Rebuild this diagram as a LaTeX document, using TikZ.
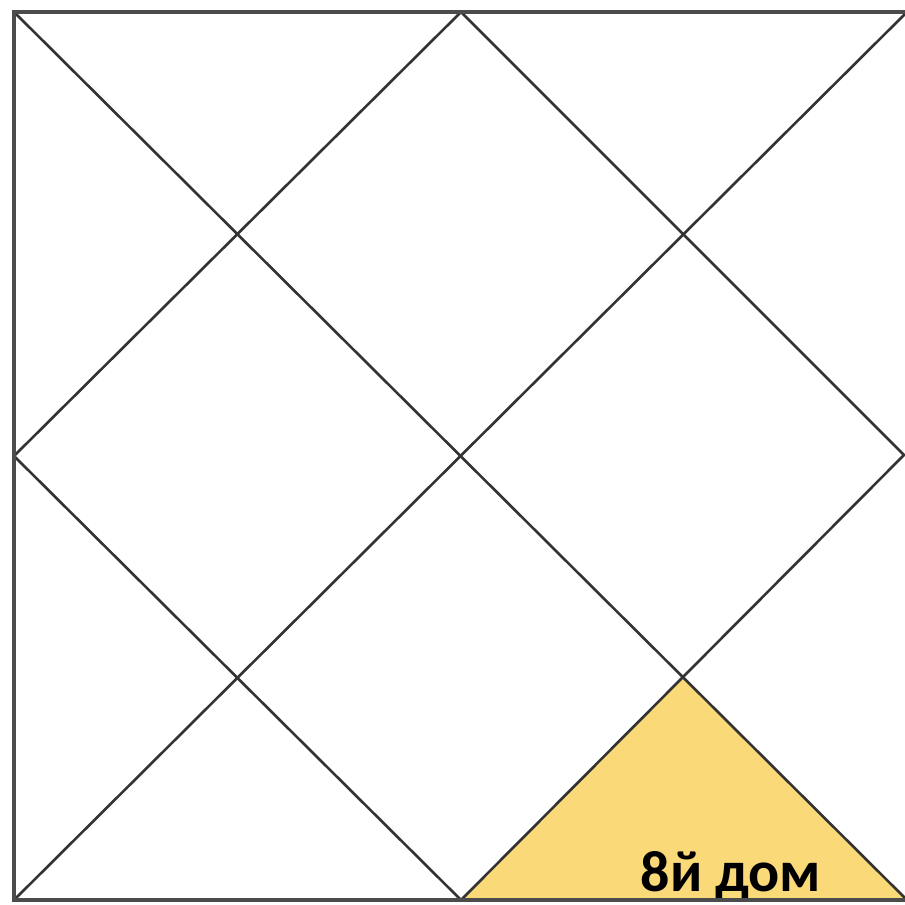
\documentclass[tikz,border=0pt]{standalone}
\usepackage{fontspec}
\setmainfont{Carlito}
\begin{document}
\begin{tikzpicture}[x=1pt,y=-1pt,
  gridline/.style={draw=black!80, line width=2.6pt},
  frameline/.style={draw=black!70, line width=3.2pt},
  label/.style={font=\bfseries\fontsize{58}{58}\selectfont, text=black, inner sep=0pt, anchor=base}]
\useasboundingbox[fill=white] (0,0) rectangle (905,905);
\coordinate (tl) at (14,12);
\coordinate (tr) at (907,12);
\coordinate (bl) at (14,900);
\coordinate (br) at (907,900);
\coordinate (tm) at (461,12);
\coordinate (bm) at (461,900);
\coordinate (lm) at (14,456);
\coordinate (rm) at (904,455);
\coordinate (x1) at (intersection of tl--br and bm--rm);
\fill[fill={rgb,255:red,250;green,217;blue,120}] (bm) -- (x1) -- (br) -- cycle;
\node[label] (t) at (731,891) {8й дом};
\draw[gridline] (tl) -- (br);
\draw[gridline] (tr) -- (bl);
\draw[gridline] (tm) -- (rm) -- (bm) -- (lm) -- cycle;
\draw[frameline] (tr) -- (tl) -- (bl) -- (br);
\end{tikzpicture}
\end{document}
